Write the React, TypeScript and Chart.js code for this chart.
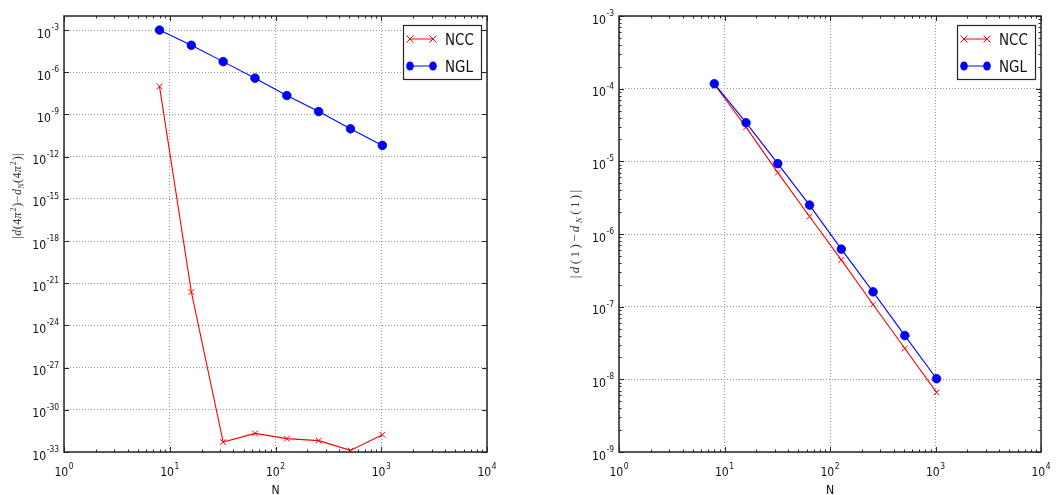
import { useEffect, useRef } from "react";
import { Chart, registerables } from "chart.js";

Chart.register(...registerables);

// Grid sizes N and the error of each quadrature rule
const N_VALUES = [8, 16, 32, 64, 128, 256, 512, 1024];
const NCC_AT_4PI2 = [1.0e-7, 2.4e-22, 5.1e-33, 2.1e-32, 8.9e-33, 6.4e-33, 1.3e-33, 1.7e-32];
const NGL_AT_4PI2 = [1.0e-3, 8.3e-5, 5.7e-6, 3.8e-7, 2.2e-8, 1.6e-9, 9.5e-11, 6.3e-12];
const NCC_AT_1 = [1.15e-4, 2.95e-5, 7.0e-6, 1.74e-6, 4.4e-7, 1.07e-7, 2.66e-8, 6.6e-9];
const NGL_AT_1 = [1.17e-4, 3.4e-5, 9.3e-6, 2.5e-6, 6.2e-7, 1.6e-7, 4.0e-8, 1.02e-8];

// Decade exponents used for the tick labels
const X_TICK_EXPONENTS = [0, 1, 2, 3, 4];
const LEFT_Y_TICK_EXPONENTS = [-33, -30, -27, -24, -21, -18, -15, -12, -9, -6, -3];
const RIGHT_Y_TICK_EXPONENTS = [-9, -8, -7, -6, -5, -4, -3];

const SERIES_LABELS = ["NCC", "NGL"];

const SANS = '"DejaVu Sans", sans-serif';
const SERIF = '"Liberation Serif", "DejaVu Serif", serif';
const SX = 0.84; // narrow text
const FRAME = "#262626";
const RED = "#ff0000";
const BLUE = "#0000ff";

type Seg = { t: string; font: string; dy?: number; gap?: number };

type Panel = {
  left: number;
  right: number;
  top: number;
  bottom: number;
  yMinExp: number;
  yMaxExp: number;
  yTicks: number[];
  yMinor: boolean;
  ncc: number[];
  ngl: number[];
  title: Seg[];
  titleX: number;
  titleY: number;
};

const W = 528;
const H = 495;

function scaledText(
  ctx: CanvasRenderingContext2D,
  text: string,
  x: number,
  y: number,
  font: string,
  align: CanvasTextAlign = "left"
) {
  ctx.save();
  ctx.font = font;
  ctx.textAlign = align;
  ctx.textBaseline = "alphabetic";
  ctx.translate(x, y);
  ctx.scale(SX, 1);
  ctx.fillText(text, 0, 0);
  ctx.restore();
}

function drawPow(
  ctx: CanvasRenderingContext2D,
  exp: number,
  x: number,
  baseline: number,
  align: "center" | "right"
) {
  const baseFont = `13px ${SANS}`;
  const supFont = `9px ${SANS}`;
  ctx.font = baseFont;
  const bw = ctx.measureText("10").width * SX;
  ctx.font = supFont;
  const es = String(exp);
  const ew = ctx.measureText(es).width * SX;
  const total = bw + 0.5 + ew;
  const left = align === "center" ? x - total / 2 : x - total;
  scaledText(ctx, "10", left, baseline, baseFont);
  scaledText(ctx, es, left + bw + 0.5, baseline - 7.5, supFont);
}

// Builds a math-style label: prefix r = roman, i = italic, ^ = superscript, _ = subscript
function mathTitle(base: string[], size: number, spacing: number): Seg[] {
  const small = Math.round(size * 0.7);
  return base.map((t) => {
    const [kind, txt] = [t[0], t.slice(1)];
    if (kind === "i") return { t: txt, font: `italic ${size}px ${SERIF}`, gap: spacing };
    if (kind === "^") return { t: txt, font: `${small}px ${SERIF}`, dy: -size * 0.4, gap: spacing + 0.5 };
    if (kind === "_") return { t: txt, font: `italic ${small}px ${SERIF}`, dy: size * 0.25, gap: spacing };
    return { t: txt, font: `${size}px ${SERIF}`, gap: spacing };
  });
}

function drawSegs(ctx: CanvasRenderingContext2D, segs: Seg[], cx: number, cy: number) {
  ctx.save();
  ctx.translate(cx, cy);
  ctx.rotate(-Math.PI / 2);
  ctx.fillStyle = "#333";
  ctx.textBaseline = "alphabetic";
  let total = 0;
  const widths = segs.map((s) => {
    ctx.font = s.font;
    const w = ctx.measureText(s.t).width + (s.gap || 0) * 2;
    total += w;
    return w;
  });
  let x = -total / 2;
  segs.forEach((s, i) => {
    ctx.font = s.font;
    ctx.fillText(s.t, x + (s.gap || 0), 4 + (s.dy || 0));
    x += widths[i];
  });
  ctx.restore();
}

function drawCross(ctx: CanvasRenderingContext2D, x: number, y: number, r: number) {
  ctx.beginPath();
  ctx.moveTo(x - r, y - r);
  ctx.lineTo(x + r, y + r);
  ctx.moveTo(x - r, y + r);
  ctx.lineTo(x + r, y - r);
  ctx.stroke();
}

function decorations(panel: Panel) {
  return {
    id: "decorations",
    afterDraw(chart: Chart) {
      const ctx = chart.ctx;
      const xs = chart.scales.x;
      const ys = chart.scales.y;
      const { left, right, top, bottom } = chart.chartArea;
      ctx.save();

      // tick marks, pointing inward on all four sides
      ctx.strokeStyle = FRAME;
      ctx.lineWidth = 1;
      const vTick = (v: number, len: number) => {
        const px = Math.round(xs.getPixelForValue(v)) + 0.5;
        ctx.beginPath();
        ctx.moveTo(px, bottom);
        ctx.lineTo(px, bottom - len);
        ctx.moveTo(px, top);
        ctx.lineTo(px, top + len);
        ctx.stroke();
      };
      const hTick = (v: number, len: number) => {
        const py = Math.round(ys.getPixelForValue(v)) + 0.5;
        ctx.beginPath();
        ctx.moveTo(left, py);
        ctx.lineTo(left + len, py);
        ctx.moveTo(right, py);
        ctx.lineTo(right - len, py);
        ctx.stroke();
      };
      X_TICK_EXPONENTS.forEach((e, i) => {
        vTick(Math.pow(10, e), 5);
        if (i < X_TICK_EXPONENTS.length - 1)
          for (let k = 2; k <= 9; k++) vTick(k * Math.pow(10, e), 2.5);
      });
      panel.yTicks.forEach((e, i) => {
        hTick(Math.pow(10, e), 5);
        if (panel.yMinor && i < panel.yTicks.length - 1)
          for (let k = 2; k <= 9; k++) hTick(k * Math.pow(10, e), 2.5);
      });

      // frame
      ctx.lineWidth = 1.5;
      ctx.strokeRect(left, top, right - left, bottom - top);

      // tick labels
      ctx.fillStyle = "#111";
      X_TICK_EXPONENTS.forEach((e) => {
        drawPow(ctx, e, xs.getPixelForValue(Math.pow(10, e)), bottom + 24, "center");
      });
      panel.yTicks.forEach((e) => {
        drawPow(ctx, e, left - 5, ys.getPixelForValue(Math.pow(10, e)) + 7.5, "right");
      });

      // axis titles
      scaledText(ctx, "N", (left + right) / 2, bottom + 42, `13px ${SANS}`, "center");
      drawSegs(ctx, panel.title, panel.titleX, panel.titleY);

      // legend
      const bw = 78;
      const bh = 54;
      const bx = right - 6 - bw;
      const by = top + 9;
      ctx.fillStyle = "#fff";
      ctx.fillRect(bx, by, bw, bh);
      ctx.strokeStyle = FRAME;
      ctx.lineWidth = 1.2;
      ctx.strokeRect(bx + 0.5, by + 0.5, bw, bh);
      const x0 = bx + 7;
      const x1 = bx + 30;
      const r1 = by + 14;
      const r2 = by + 41;
      ctx.strokeStyle = RED;
      ctx.lineWidth = 1;
      ctx.beginPath();
      ctx.moveTo(x0, r1);
      ctx.lineTo(x1, r1);
      ctx.stroke();
      drawCross(ctx, x0, r1, 3.5);
      drawCross(ctx, x1, r1, 3.5);
      ctx.strokeStyle = BLUE;
      ctx.beginPath();
      ctx.moveTo(x0, r2);
      ctx.lineTo(x1, r2);
      ctx.stroke();
      ctx.fillStyle = BLUE;
      [x0, x1].forEach((cx) => {
        ctx.beginPath();
        ctx.ellipse(cx, r2, 3.8, 4.5, 0, 0, Math.PI * 2);
        ctx.fill();
      });
      ctx.fillStyle = "#111";
      scaledText(ctx, SERIES_LABELS[0], bx + 42, r1 + 6, `16px ${SANS}`);
      scaledText(ctx, SERIES_LABELS[1], bx + 42, r2 + 6, `16px ${SANS}`);

      ctx.restore();
    },
  };
}

function makeChart(canvas: HTMLCanvasElement, panel: Panel) {
  const toPoints = (ys: number[]) => N_VALUES.map((n, i) => ({ x: n, y: ys[i] }));
  return new Chart(canvas, {
    type: "line",
    data: {
      datasets: [
        {
          label: SERIES_LABELS[0],
          data: toPoints(panel.ncc),
          borderColor: RED,
          backgroundColor: RED,
          borderWidth: 1.1,
          pointStyle: "crossRot",
          pointRadius: 4,
          pointBorderWidth: 1,
          pointBorderColor: RED,
          tension: 0,
          order: 2,
        },
        {
          label: SERIES_LABELS[1],
          data: toPoints(panel.ngl),
          borderColor: BLUE,
          backgroundColor: BLUE,
          borderWidth: 1.1,
          pointStyle: "circle",
          pointRadius: 4.3,
          pointBorderWidth: 0.8,
          pointBorderColor: "#0000c8",
          tension: 0,
          order: 1,
        },
      ],
    },
    options: {
      responsive: false,
      animation: false,
      devicePixelRatio: 1,
      layout: {
        padding: { left: 0, right: W - panel.right, top: panel.top, bottom: 0 },
      },
      plugins: {
        legend: { display: false },
        tooltip: { enabled: false },
      },
      scales: {
        x: {
          type: "logarithmic",
          min: 1,
          max: 1e4,
          afterBuildTicks: (s: any) => {
            s.ticks = X_TICK_EXPONENTS.map((e) => ({ value: Math.pow(10, e) }));
          },
          afterFit: (s: any) => {
            s.height = H - panel.bottom;
          },
          ticks: { display: false },
          grid: { color: "#9a9a9a", lineWidth: 1, drawTicks: false },
          border: { display: false, dash: [1, 2] },
        },
        y: {
          type: "logarithmic",
          min: Math.pow(10, panel.yMinExp),
          max: Math.pow(10, panel.yMaxExp),
          afterBuildTicks: (s: any) => {
            s.ticks = panel.yTicks.map((e) => ({ value: Math.pow(10, e) }));
          },
          afterFit: (s: any) => {
            s.width = panel.left;
          },
          ticks: { display: false },
          grid: { color: "#9a9a9a", lineWidth: 1, drawTicks: false },
          border: { display: false, dash: [1, 2] },
        },
      },
    },
    plugins: [decorations(panel)],
  } as any);
}

const LEFT_PANEL: Panel = {
  left: 64,
  right: 487,
  top: 16,
  bottom: 452,
  yMinExp: -33,
  yMaxExp: -2,
  yTicks: LEFT_Y_TICK_EXPONENTS,
  yMinor: false,
  ncc: NCC_AT_4PI2,
  ngl: NGL_AT_4PI2,
  title: mathTitle(
    ["r|", "id", "r(", "r4", "iπ", "^2", "r)", "r−", "id", "_N", "r(", "r4", "iπ", "^2", "r)", "r|"],
    12,
    0.2
  ),
  titleX: 17,
  titleY: 196,
};

const RIGHT_PANEL: Panel = {
  left: 91,
  right: 513,
  top: 16,
  bottom: 452,
  yMinExp: -9,
  yMaxExp: -3,
  yTicks: RIGHT_Y_TICK_EXPONENTS,
  yMinor: true,
  ncc: NCC_AT_1,
  ngl: NGL_AT_1,
  title: mathTitle(["r|", "id", "r(", "r1", "r)", "r−", "id", "_N", "r(", "r1", "r)", "r|"], 13, 1.2),
  titleX: 47,
  titleY: 234,
};

export default function App() {
  const leftRef = useRef<HTMLCanvasElement | null>(null);
  const rightRef = useRef<HTMLCanvasElement | null>(null);

  useEffect(() => {
    const charts: Chart[] = [];
    if (leftRef.current) charts.push(makeChart(leftRef.current, LEFT_PANEL));
    if (rightRef.current) charts.push(makeChart(rightRef.current, RIGHT_PANEL));
    return () => charts.forEach((c) => c.destroy());
  }, []);

  return (
    <div
      style={{
        position: "fixed",
        left: 0,
        top: 0,
        width: 1056,
        height: 495,
        background: "#fff",
      }}
    >
      <canvas
        ref={leftRef}
        width={W}
        height={H}
        style={{ position: "absolute", left: 0, top: 0, width: W, height: H }}
      />
      <canvas
        ref={rightRef}
        width={W}
        height={H}
        style={{ position: "absolute", left: W, top: 0, width: W, height: H }}
      />
    </div>
  );
}
